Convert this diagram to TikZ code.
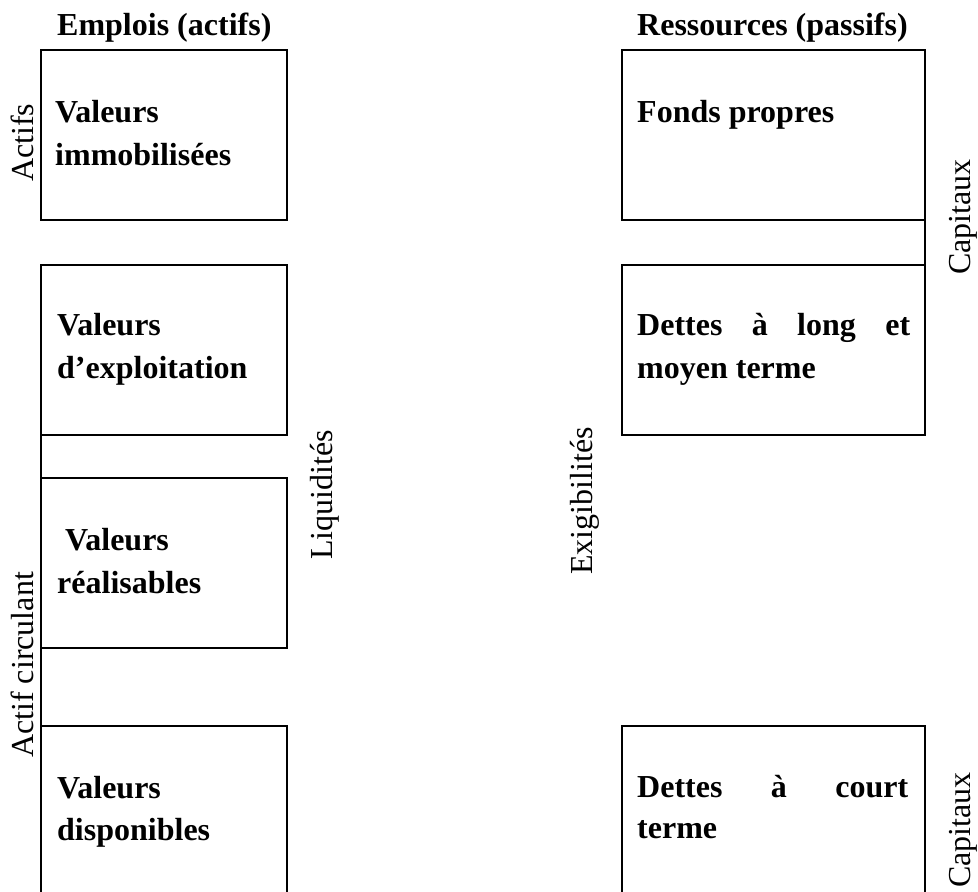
\documentclass[tikz,border=0pt]{standalone}
\usepackage{fontspec}
\setmainfont{Liberation Serif}
\begin{document}
\begin{tikzpicture}[x=1pt,y=-1pt,
  box/.style={draw=black,line width=2.9pt,minimum width=#1,minimum height=170pt,anchor=north west,inner sep=0pt,outer sep=0pt},
  conn/.style={draw=black,line width=2.9pt},
  bt/.style={font=\fontsize{32}{43}\selectfont\bfseries,anchor=base west,inner sep=0pt},
  side/.style={font=\fontsize{32}{43}\selectfont,anchor=base west,rotate=90,inner sep=0pt}]
\clip (0,0) rectangle (978,892);
% headers
\node[bt] (h1) at (57,35) {Emplois (actifs)};
\node[bt] (h2) at (637,35) {Ressources (passifs)};
% left boxes
\node[box=246pt] (vi) at (41,50) {};
\node[box=246pt] (ve) at (41,265) {};
\node[box=246pt] (vr) at (41,478) {};
\node[box=246pt,minimum height=200pt] (vd) at (41,726) {};
% right boxes
\node[box=303pt] (fp) at (622,50) {};
\node[box=303pt] (dl) at (622,265) {};
\node[box=303pt,minimum height=200pt] (dc) at (622,726) {};
% connectors
\draw[conn] (ve.south west) -- (vr.north west);
\draw[conn] (vr.south west) -- (vd.north west);
\draw[conn] (fp.south east) -- (dl.north east);
% box texts
\node[bt] (t1a) at (55,122) {Valeurs};
\node[bt] (t1b) at (55,165) {immobilisées};
\node[bt] (t2a) at (57,335) {Valeurs};
\node[bt] (t2b) at (57,378) {d’exploitation};
\node[bt] (t3a) at (65,550) {Valeurs};
\node[bt] (t3b) at (57,593) {réalisables};
\node[bt] (t4a) at (57,798) {Valeurs};
\node[bt] (t4b) at (57,840) {disponibles};
\node[bt] (r1a) at (637,122) {Fonds propres};
\node[bt] (r2a) at (637,335) {\makebox[273pt][l]{Dettes\hfill à\hfill long\hfill et}};
\node[bt] (r2b) at (637,378) {moyen terme};
\node[bt] (r3a) at (637,797) {\makebox[271pt][l]{Dettes\hfill à\hfill court}};
\node[bt] (r3b) at (637,838) {terme};
% side labels
\node[side] (s1) at (33,182) {Actifs};
\node[side] (s2) at (33,758) {Actif circulant};
\node[side] (s3) at (332,560) {Liquidités};
\node[side] (s4) at (592,575) {Exigibilités};
\node[side] (s5) at (970,275) {Capitaux};
\node[side] (s6) at (970,888) {Capitaux};
\end{tikzpicture}
\end{document}
